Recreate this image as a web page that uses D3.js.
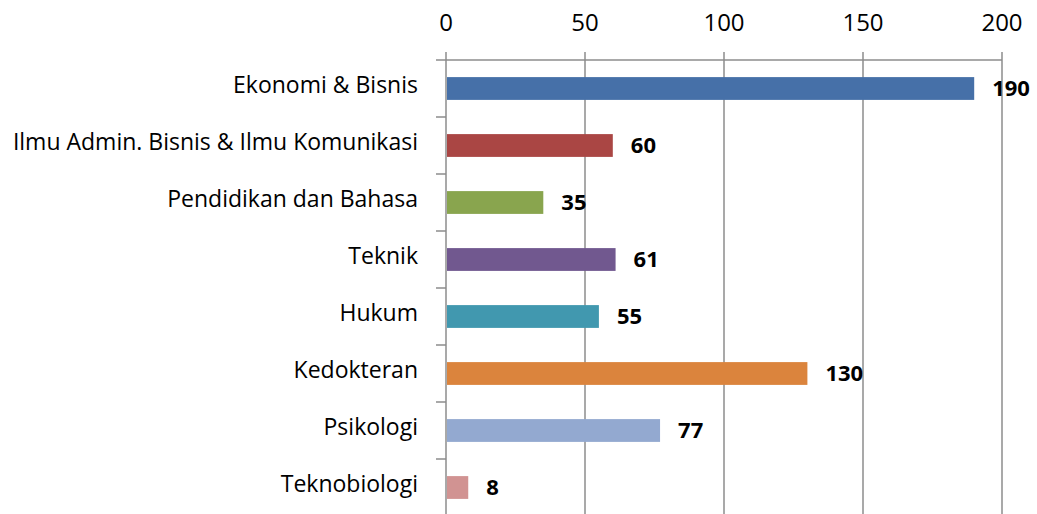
<!DOCTYPE html>
<html>
<head>
<meta charset="utf-8">
<script src="https://cdn.jsdelivr.net/npm/d3@7"></script>
<style>
  body { margin: 0; background: #fff; }
  text { font-family: "Open Sans", sans-serif; fill: #000; }
</style>
</head>
<body>
<div id="chart"></div>
<script>
const categories = ["Ekonomi & Bisnis", "Ilmu Admin. Bisnis & Ilmu Komunikasi", "Pendidikan dan Bahasa",
    "Teknik", "Hukum", "Kedokteran", "Psikologi", "Teknobiologi"];
const values = [190, 60, 35, 61, 55, 130, 77, 8];
const colors = ["#4670A8", "#AA4644", "#89A54E", "#71588F", "#4198AF", "#DB843D", "#93A9D0", "#D19392"];
const ticks = [0, 50, 100, 150, 200];

const width = 1037,
    height = 514,
    margin = ({top: 60, right: 35, bottom: -2, left: 446});

const svg = d3.select("#chart")
    .append("svg")
    .attr("width", width)
    .attr("height", height);

let x = d3.scaleLinear()
    .domain([0, 200])
    .range([margin.left, width - margin.right]);

let y = d3.scaleBand()
    .domain(categories)
    .range([margin.top, height - margin.bottom])
    .paddingInner(0.6)
    .paddingOuter(0.3);

// vertical gridlines incl. top tick marks
svg.append("g")
  .selectAll("line")
  .data(ticks)
  .join("line")
    .attr("x1", d => x(d)).attr("x2", d => x(d))
    .attr("y1", margin.top - 8).attr("y2", height)
    .attr("stroke", "#8c8c8c")
    .attr("stroke-width", 1.5);

// top axis line
svg.append("line")
    .attr("x1", margin.left - 10).attr("x2", x(200))
    .attr("y1", margin.top).attr("y2", margin.top)
    .attr("stroke", "#8c8c8c")
    .attr("stroke-width", 1.5);

// tick labels
svg.append("g")
  .selectAll("text")
  .data(ticks)
  .join("text")
    .attr("x", d => x(d))
    .attr("y", 31)
    .attr("text-anchor", "middle")
    .attr("font-size", 24)
    .text(d => d);

// category tick marks on the left of the axis
const step = y.step();
svg.append("g")
  .selectAll("line")
  .data(d3.range(1, categories.length + 1))
  .join("line")
    .attr("x1", margin.left - 10).attr("x2", margin.left)
    .attr("y1", i => margin.top + i * step)
    .attr("y2", i => margin.top + i * step)
    .attr("stroke", "#8c8c8c")
    .attr("stroke-width", 1.5);

// bars
svg.append("g")
  .selectAll("rect")
  .data(values)
  .join("rect")
    .attr("x", x(0) + 1)
    .attr("y", (d, i) => y(categories[i]))
    .attr("width", d => x(d) - x(0) - 1)
    .attr("height", y.bandwidth())
    .attr("fill", (d, i) => colors[i]);

// category labels
svg.append("g")
  .selectAll("text")
  .data(categories)
  .join("text")
    .attr("x", margin.left - 28)
    .attr("y", d => y(d) + y.bandwidth() / 2 + 4)
    .attr("text-anchor", "end")
    .attr("font-size", 23)
    .text(d => d);

// value labels
svg.append("g")
  .selectAll("text")
  .data(values)
  .join("text")
    .attr("x", d => x(d) + 18)
    .attr("y", (d, i) => y(categories[i]) + y.bandwidth() / 2 + 7)
    .attr("font-size", 22)
    .attr("font-weight", "bold")
    .text(d => d);
</script>
</body>
</html>
